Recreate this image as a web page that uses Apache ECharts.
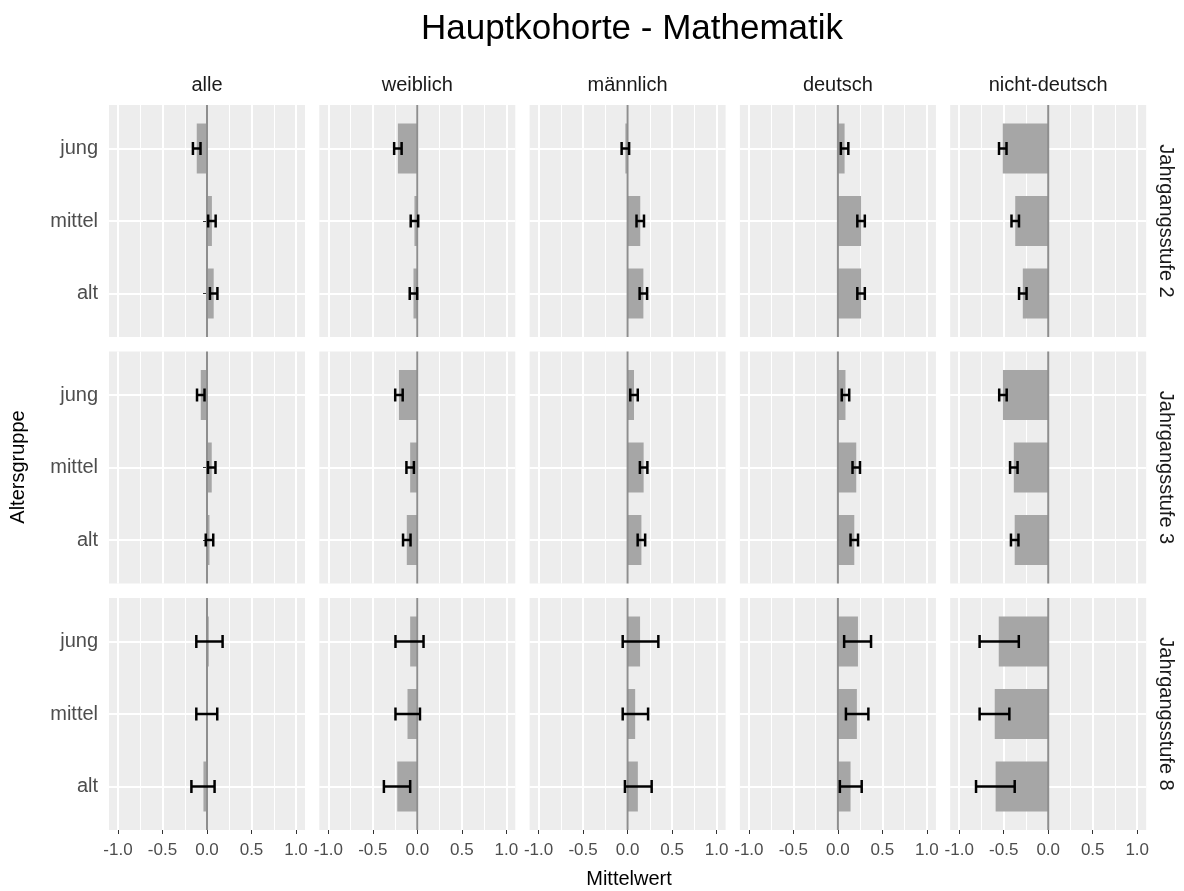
<!DOCTYPE html>
<html>
<head>
<meta charset="utf-8">
<title>Hauptkohorte - Mathematik</title>
<script src="https://cdn.jsdelivr.net/npm/echarts@6/dist/echarts.min.js"></script>
<style>
  html, body { margin: 0; padding: 0; background: #fff; }
  #chart { width: 1184px; height: 891px; }
</style>
</head>
<body>
<div id="chart"></div>
<script>
// Facet labels
const categories = ['jung', 'mittel', 'alt'];
const columns = ['alle', 'weiblich', 'männlich', 'deutsch', 'nicht-deutsch'];
const rows = ['Jahrgangsstufe 2', 'Jahrgangsstufe 3', 'Jahrgangsstufe 8'];

// x scale of every panel
const xMin = -1, xMax = 1, xStep = 0.5;
const referenceValue = 0;

// Means per column (alle, weiblich, männlich, deutsch, nicht-deutsch), each [jung, mittel, alt]
const meanJg2 = [
  [-0.115, 0.055, 0.075],
  [-0.218, -0.032, -0.043],
  [-0.025, 0.142, 0.177],
  [0.075, 0.26, 0.26],
  [-0.51, -0.37, -0.285]
];
const lowJg2 = [
  [-0.158, 0.013, 0.033],
  [-0.26, -0.074, -0.085],
  [-0.067, 0.1, 0.135],
  [0.033, 0.218, 0.218],
  [-0.552, -0.412, -0.327]
];
const highJg2 = [
  [-0.073, 0.097, 0.117],
  [-0.176, 0.01, -0.001],
  [0.017, 0.184, 0.219],
  [0.117, 0.302, 0.302],
  [-0.468, -0.328, -0.243]
];

const meanJg3 = [
  [-0.07, 0.053, 0.028],
  [-0.206, -0.08, -0.118],
  [0.072, 0.18, 0.155],
  [0.085, 0.206, 0.184],
  [-0.508, -0.386, -0.376]
];
const lowJg3 = [
  [-0.112, 0.011, -0.014],
  [-0.248, -0.122, -0.16],
  [0.03, 0.138, 0.113],
  [0.043, 0.164, 0.142],
  [-0.55, -0.428, -0.418]
];
const highJg3 = [
  [-0.028, 0.095, 0.07],
  [-0.164, -0.038, -0.076],
  [0.114, 0.222, 0.197],
  [0.127, 0.248, 0.226],
  [-0.466, -0.344, -0.334]
];

const meanJg8 = [
  [0.02, -0.005, -0.04],
  [-0.08, -0.11, -0.225],
  [0.14, 0.085, 0.115],
  [0.225, 0.213, 0.142],
  [-0.555, -0.6, -0.59]
];
const lowJg8 = [
  [-0.12, -0.12, -0.175],
  [-0.245, -0.245, -0.375],
  [-0.055, -0.055, -0.03],
  [0.07, 0.09, 0.022],
  [-0.77, -0.77, -0.81]
];
const highJg8 = [
  [0.175, 0.115, 0.085],
  [0.07, 0.03, -0.08],
  [0.345, 0.23, 0.27],
  [0.372, 0.342, 0.267],
  [-0.33, -0.436, -0.376]
];

const meanByRow = [meanJg2, meanJg3, meanJg8];
const lowByRow = [lowJg2, lowJg3, lowJg8];
const highByRow = [highJg2, highJg3, highJg8];

// Layout of the facet grid
const FONT = '"Liberation Sans", Arial, Helvetica, sans-serif';
const panelLeft0 = 109, panelStepX = 210.3, panelW = 196;
const panelTop0 = 105, panelStepY = 246.5, panelH = 232;
const padX = 9;          // space between panel edge and the -1 / 1 positions
const catInset = 43.5;   // space between panel edge and the first / last category
const PANEL_BG = '#EDEDED';
const BAR = '#A6A6A6';
const ZERO = '#8E8E8E';
const TICK_TEXT = '#4D4D4D';

const grid = [], xAxis = [], yAxis = [], series = [], graphic = [];

rows.forEach((rowName, r) => {
  columns.forEach((colName, c) => {
    const left = panelLeft0 + c * panelStepX;
    const top = panelTop0 + r * panelStepY;
    const isBottom = r === rows.length - 1;
    const isLeft = c === 0;

    // panel background
    graphic.push({
      type: 'rect', z: -10, silent: true,
      shape: { x: left, y: top, width: panelW, height: panelH },
      style: { fill: PANEL_BG }
    });

    // grid A: vertical grid lines, x tick labels, reference line
    const gA = grid.length;
    grid.push({ left: left + padX, top: top, width: panelW - 2 * padX, height: panelH });
    xAxis.push({
      gridIndex: gA, type: 'value', min: xMin, max: xMax, interval: xStep,
      axisLine: { show: false },
      axisTick: { show: isBottom, length: 4, lineStyle: { color: '#333', width: 1 } },
      axisLabel: {
        show: isBottom, margin: 12, fontSize: 17, color: TICK_TEXT, fontFamily: FONT,
        formatter: v => v.toFixed(1)
      },
      splitLine: { show: true, lineStyle: { color: '#FFFFFF', width: 2 } },
      minorTick: { show: false, splitNumber: 2 },
      minorSplitLine: { show: true, lineStyle: { color: '#FFFFFF', width: 1 } }
    });
    yAxis.push({ gridIndex: gA, type: 'value', min: 0, max: 1, show: false });

    series.push({
      type: 'line', xAxisIndex: gA, yAxisIndex: gA, silent: true, z: 4,
      symbol: 'none', animation: false,
      lineStyle: { color: ZERO, width: 2 },
      data: [[referenceValue, 0], [referenceValue, 1]]
    });

    // grid B: bars, error bars, category lines and labels
    const gB = grid.length;
    grid.push({ left: left, top: top + catInset, width: panelW, height: panelH - 2 * catInset });
    xAxis.push({
      gridIndex: gB, type: 'value', min: xMin - 0.1, max: xMax + 0.1, show: false
    });
    yAxis.push({
      gridIndex: gB, type: 'category', data: categories, inverse: true, boundaryGap: false,
      axisLine: { show: false },
      axisTick: { show: isLeft, length: 4, lineStyle: { color: '#333', width: 1 } },
      axisLabel: { show: isLeft, margin: 11, fontSize: 20, color: TICK_TEXT, fontFamily: FONT },
      splitLine: { show: true, lineStyle: { color: '#FFFFFF', width: 2 } }
    });

    const means = meanByRow[r][c];
    const lows = lowByRow[r][c];
    const highs = highByRow[r][c];

    series.push({
      type: 'bar', xAxisIndex: gB, yAxisIndex: gB, z: 2, silent: true,
      barWidth: 50,
      itemStyle: { color: BAR },
      data: means
    });

    series.push({
      type: 'custom', xAxisIndex: gB, yAxisIndex: gB, z: 6, silent: true,
      encode: { x: [1, 2], y: 0 },
      data: categories.map((cat, i) => [i, lows[i], highs[i]]),
      renderItem: (params, api) => {
        const idx = api.value(0);
        const a = api.coord([api.value(1), idx]);
        const b = api.coord([api.value(2), idx]);
        const capH = 6.5;
        const st = { stroke: '#000', lineWidth: 2.5 };
        return {
          type: 'group',
          children: [
            { type: 'line', shape: { x1: a[0], y1: a[1], x2: b[0], y2: b[1] }, style: st },
            { type: 'line', shape: { x1: a[0], y1: a[1] - capH, x2: a[0], y2: a[1] + capH }, style: st },
            { type: 'line', shape: { x1: b[0], y1: b[1] - capH, x2: b[0], y2: b[1] + capH }, style: st }
          ]
        };
      }
    });

    // column strip label
    if (r === 0) {
      graphic.push({
        type: 'text', silent: true,
        style: {
          text: colName, x: left + panelW / 2, y: 85, align: 'center', verticalAlign: 'middle',
          fontSize: 20, fontFamily: FONT, fill: '#1A1A1A'
        }
      });
    }
  });

  // row strip label
  graphic.push({
    type: 'text', silent: true,
    x: 1166, y: panelTop0 + r * panelStepY + panelH / 2, rotation: -Math.PI / 2,
    style: {
      text: rowName, x: 0, y: 0, align: 'center', verticalAlign: 'middle',
      fontSize: 20, fontFamily: FONT, fill: '#1A1A1A'
    }
  });
});

// titles
graphic.push({
  type: 'text', silent: true,
  style: {
    text: 'Hauptkohorte - Mathematik', x: 632, y: 29, align: 'center', verticalAlign: 'middle',
    fontSize: 35, fontFamily: FONT, fill: '#000'
  }
});
graphic.push({
  type: 'text', silent: true,
  style: {
    text: 'Mittelwert', x: 629, y: 879, align: 'center', verticalAlign: 'middle',
    fontSize: 20, fontFamily: FONT, fill: '#000'
  }
});
graphic.push({
  type: 'text', silent: true,
  x: 18, y: 467, rotation: Math.PI / 2,
  style: {
    text: 'Altersgruppe', x: 0, y: 0, align: 'center', verticalAlign: 'middle',
    fontSize: 20, fontFamily: FONT, fill: '#000'
  }
});

const chart = echarts.init(document.getElementById('chart'), null, { renderer: 'canvas' });
chart.setOption({
  animation: false,
  backgroundColor: '#FFFFFF',
  grid: grid,
  xAxis: xAxis,
  yAxis: yAxis,
  series: series,
  graphic: { elements: graphic }
});
</script>
</body>
</html>
